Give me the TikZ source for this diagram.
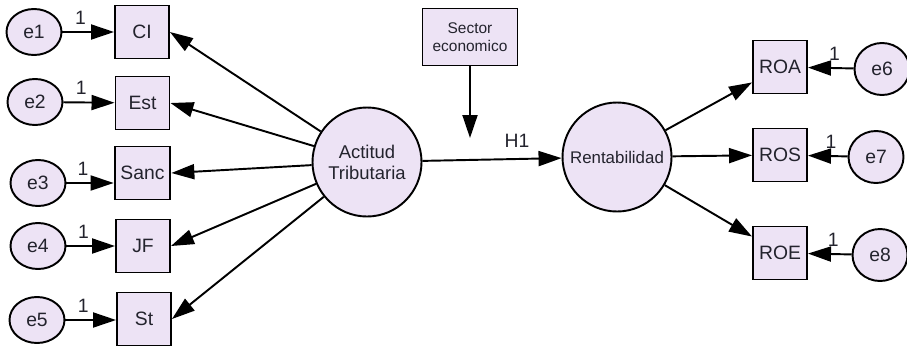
\documentclass[tikz,border=0pt]{standalone}
\usepackage{fontspec}
\setmainfont{Liberation Sans}
\usetikzlibrary{shapes.geometric,arrows.meta}
\definecolor{lav}{RGB}{237,227,245}
\definecolor{ink}{RGB}{35,35,45}
\begin{document}
\begin{tikzpicture}[
  obs/.style={draw, rectangle, fill=lav, line width=1.1pt, minimum width=1.08cm, minimum height=1.06cm, text=ink, font=\fontsize{11}{12}\selectfont},
  err/.style={draw, ellipse, fill=lav, line width=1.1pt, minimum width=1.1cm, minimum height=0.92cm, inner sep=0pt, text=ink, font=\fontsize{11}{12}\selectfont},
  lat/.style={draw, circle, fill=lav, line width=1.1pt, minimum size=2.18cm, inner sep=0pt, text=ink, align=center},
  arr/.style={-{Triangle[length=0.46cm,width=0.3cm]}, line width=1.1pt},
  one/.style={above, inner sep=4pt, font=\fontsize{11}{12}\selectfont, text=ink}
]
\useasboundingbox (0,0) rectangle (18.14,-7.04);
% indicators of Actitud Tributaria
\node[obs] (ci) at (2.84,-0.64) {CI};
\node[obs] (est) at (2.85,-2.06) {Est};
\node[obs] (sanc) at (2.85,-3.46) {Sanc};
\node[obs] (jf) at (2.86,-4.92) {JF};
\node[obs] (st) at (2.88,-6.38) {St};
\node[err] (e1) at (0.68,-0.64) {e1};
\node[err] (e2) at (0.70,-2.04) {e2};
\node[err] (e3) at (0.76,-3.66) {e3};
\node[err] (e4) at (0.76,-4.92) {e4};
\node[err] (e5) at (0.74,-6.40) {e5};
\draw[arr] (e1) -- node[one, pos=0.35] {1} (ci);
\draw[arr] (e2) -- node[one, pos=0.35] {1} (est);
\draw[arr] (e3.east) -- node[one, pos=0.35] {1} (e3.east -| sanc.west);
\draw[arr] (e4) -- node[one, pos=0.35] {1} (jf);
\draw[arr] (e5.east) -- node[one, pos=0.35] {1} (e5.east -| st.west);
% latent variables
\node[lat, font=\fontsize{10.5}{12}\selectfont] (act) at (7.34,-3.24) {Actitud\\Tributaria};
\node[lat, font=\fontsize{9.6}{11}\selectfont] (rent) at (12.34,-3.14) {Rentabilidad};
\node[draw, rectangle, fill=lav, line width=1.1pt, minimum width=1.9cm, minimum height=1.14cm, align=center, text=ink, font=\fontsize{8.8}{10.5}\selectfont] (sec) at (9.40,-0.74) {Sector\\economico};
\coordinate (mod) at (9.40,-2.76);
\draw[arr] (act) -- (ci.east);
\draw[arr] (act) -- (est.east);
\draw[arr] (act) -- (sanc.east);
\draw[arr] (act) -- (jf.east);
\draw[arr] (act) -- (st.east);
\draw[arr] (act) -- node[pos=0.68, above=0.1cm, text=ink, font=\fontsize{11}{12}\selectfont] (h1) {H1} (rent);
\draw[arr] (sec) -- (mod);
% indicators of Rentabilidad
\node[obs] (roa) at (15.60,-1.34) {ROA};
\node[obs] (ros) at (15.60,-3.10) {ROS};
\node[obs] (roe) at (15.60,-5.06) {ROE};
\node[err, minimum height=1.04cm] (e6) at (17.64,-1.38) {e6};
\node[err, minimum height=1.04cm] (e7) at (17.52,-3.14) {e7};
\node[err, minimum height=1.04cm] (e8) at (17.60,-5.10) {e8};
\draw[arr] (rent) -- (roa);
\draw[arr] (rent) -- (ros);
\draw[arr] (rent) -- (roe);
\draw[arr] (e6) -- node[one, pos=0.42] {1} (roa);
\draw[arr] (e7) -- node[one, pos=0.42] {1} (ros);
\draw[arr] (e8) -- node[one, pos=0.42] {1} (roe);
\end{tikzpicture}
\end{document}
